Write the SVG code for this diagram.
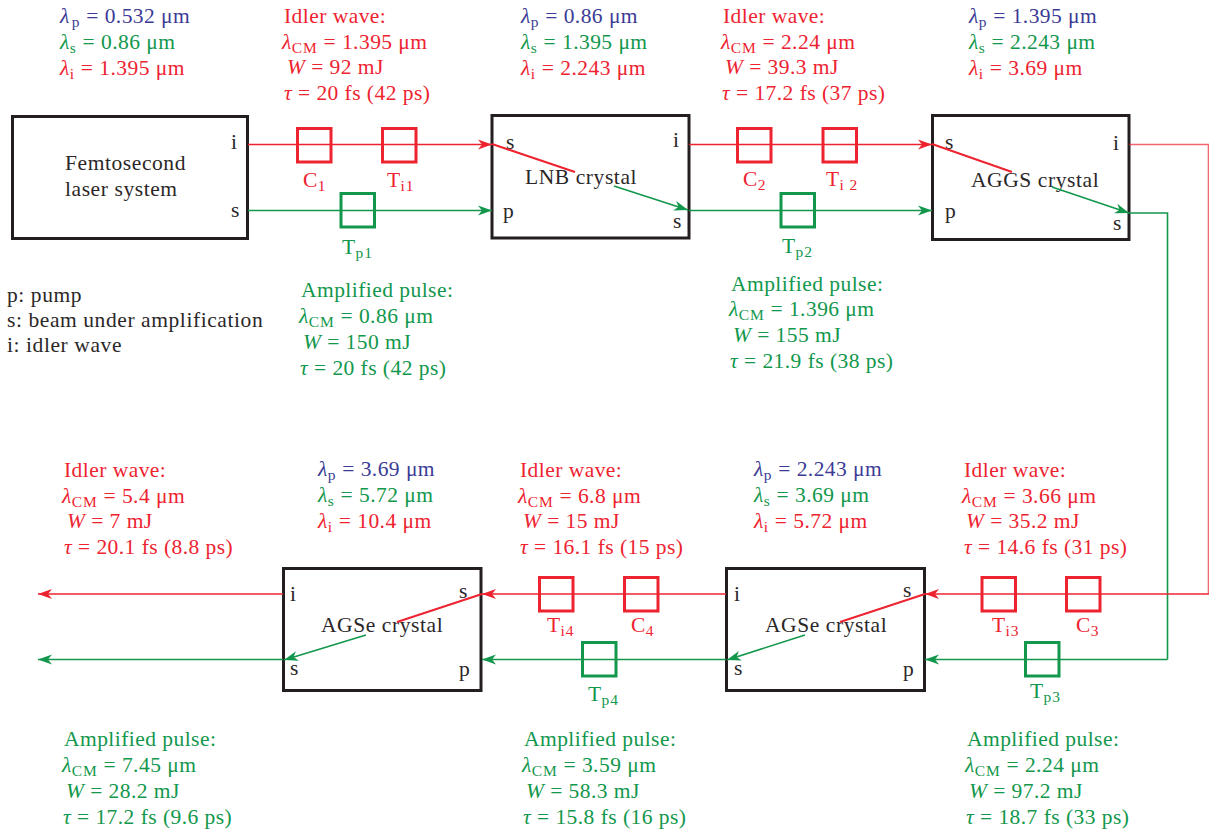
<svg xmlns="http://www.w3.org/2000/svg" width="1209" height="832" viewBox="0 0 1209 832">
<style>
text{font-family:"Liberation Serif","Times New Roman",serif;font-size:21.5px;letter-spacing:.58px;fill:#2b2728}
.b{fill:#3b3b95;letter-spacing:.45px}.g{fill:#12974c;letter-spacing:.45px}.r{fill:#ee2330;letter-spacing:.45px}
.i{font-style:italic}
.s{font-size:15.5px;letter-spacing:.9px}
.box{fill:#fff;stroke:#231f20;stroke-width:3}
.sr,.sg{fill:none;stroke-width:3}
.sr{stroke:#ee2330}.sg{stroke:#12974c}
.lr,.lg{fill:none;stroke-width:1.6}
.lr{stroke:#ee2330}.lg{stroke:#12974c}
.d{stroke-width:2}
.ar{marker-end:url(#mr)}.ag{marker-end:url(#mg)}
</style>
<defs>
<marker id="mr" markerUnits="userSpaceOnUse" markerWidth="16" markerHeight="12" refX="14" refY="6" orient="auto"><path d="M14,6L0,1L4,6L0,11z" fill="#ee2330"/></marker>
<marker id="mg" markerUnits="userSpaceOnUse" markerWidth="16" markerHeight="12" refX="14" refY="6" orient="auto"><path d="M14,6L0,1L4,6L0,11z" fill="#12974c"/></marker>
</defs>
<g id="node-laser"><rect class="box" x="12.500" y="116.500" width="235" height="122"/><text x="65" y="170">Femtosecond</text><text x="65" y="196">laser system</text><text x="231" y="149">i</text><text x="231" y="217">s</text></g>
<g id="node-lnb"><rect class="box" x="492" y="115.500" width="197" height="122.500"/><text x="525" y="184">LNB crystal</text><text x="506" y="149">s</text><text x="503" y="218">p</text><text x="673" y="147">i</text><text x="673" y="228">s</text></g>
<g id="node-aggs"><rect class="box" x="932.500" y="115.500" width="196.500" height="124"/><text x="971" y="187">AGGS crystal</text><text x="945" y="149">s</text><text x="945" y="218">p</text><text x="1113" y="150">i</text><text x="1113" y="230">s</text></g>
<g id="node-agse2"><rect class="box" x="283.500" y="568.500" width="197.500" height="122"/><text x="321" y="632">AGSe crystal</text><text x="290" y="601">i</text><text x="290" y="675">s</text><text x="459" y="598">s</text><text x="459" y="676">p</text></g>
<g id="node-agse1"><rect class="box" x="726.500" y="568.500" width="198" height="122"/><text x="765" y="632">AGSe crystal</text><text x="734" y="601">i</text><text x="734" y="675">s</text><text x="903" y="597">s</text><text x="903" y="676">p</text></g>
<g id="connectors">
<path class="lr ar" d="M248,144.500H492"/><path class="lg ag" d="M248,210.500H492"/>
<path class="lr ar" d="M689,144.500H932"/><path class="lg ag" d="M689,210.500H932"/>
<path class="lr" stroke-opacity=".7" d="M1129,144.500H1208.500V593.500"/>
<path class="lg" d="M1129,213H1167.500V659.500"/>
<path class="lr ar" d="M1209,594H925"/><path class="lg ag" d="M1167.500,659.500H925"/>
<path class="lr ar" d="M726,594H482"/><path class="lg ag" d="M726,659.500H482"/>
<path class="lr ar" d="M283,594H38"/><path class="lg ag" d="M283,659.500H38"/>
<path class="lr d" d="M492,144L575,172"/><path class="lg ag" d="M614,186L688,210"/>
<path class="lr d" d="M932,144L1012,172"/><path class="lg ag" d="M1052,187L1129,213"/>
<path class="lr d" d="M925,594L840,622"/><path class="lg ag" d="M805,635L727,660"/>
<path class="lr d" d="M482,594L397,622"/><path class="lg ag" d="M366,635L284,660"/>
</g>
<g id="node-c1"><rect class="sr" x="297.500" y="128.500" width="33.500" height="33.500"/><text class="r" x="303" y="187">C<tspan class="s" dy="4">1</tspan></text></g>
<g id="node-ti1"><rect class="sr" x="382.500" y="128.500" width="33.500" height="33.500"/><text class="r" x="387" y="187">T<tspan class="s" dy="4">i1</tspan></text></g>
<g id="node-tp1"><rect class="sg" x="341" y="193.500" width="33.500" height="33.500"/><text class="g" x="342" y="254">T<tspan class="s" dy="4">p1</tspan></text></g>
<g id="node-c2"><rect class="sr" x="737.500" y="128.500" width="33.500" height="33.500"/><text class="r" x="743" y="186">C<tspan class="s" dy="4">2</tspan></text></g>
<g id="node-ti2"><rect class="sr" x="823" y="128.500" width="33.500" height="33.500"/><text class="r" x="826" y="186">T<tspan class="s" dy="4">i 2</tspan></text></g>
<g id="node-tp2"><rect class="sg" x="781" y="193.500" width="33.500" height="33.500"/><text class="g" x="782" y="253">T<tspan class="s" dy="4">p2</tspan></text></g>
<g id="node-ti3"><rect class="sr" x="982" y="577.500" width="33.500" height="33.500"/><text class="r" x="992" y="632">T<tspan class="s" dy="4">i3</tspan></text></g>
<g id="node-c3"><rect class="sr" x="1066.500" y="577.500" width="33.500" height="33.500"/><text class="r" x="1076" y="632">C<tspan class="s" dy="4">3</tspan></text></g>
<g id="node-tp3"><rect class="sg" x="1025.500" y="642.500" width="33.500" height="33.500"/><text class="g" x="1030" y="698">T<tspan class="s" dy="4">p3</tspan></text></g>
<g id="node-ti4"><rect class="sr" x="539.500" y="577.500" width="33.500" height="33.500"/><text class="r" x="547" y="632">T<tspan class="s" dy="4">i4</tspan></text></g>
<g id="node-c4"><rect class="sr" x="624.500" y="577.500" width="33.500" height="33.500"/><text class="r" x="631" y="632">C<tspan class="s" dy="4">4</tspan></text></g>
<g id="node-tp4"><rect class="sg" x="582.500" y="642.500" width="33.500" height="33.500"/><text class="g" x="588" y="701">T<tspan class="s" dy="4">p4</tspan></text></g>
<g id="text-legend"><text x="7" y="302">p: pump</text><text x="7" y="327">s: beam under amplification</text><text x="7" y="352">i: idler wave</text></g>
<g id="text-wavelengths">
<text class="b" x="60" y="23"><tspan class="i">λ</tspan><tspan class="s" dx="2" dy="4">p</tspan><tspan dy="-4"> = 0.532 μm</tspan></text>
<text class="g" x="60" y="49"><tspan class="i">λ</tspan><tspan class="s" dy="4">s</tspan><tspan dy="-4"> = 0.86 μm</tspan></text>
<text class="r" x="60" y="75"><tspan class="i">λ</tspan><tspan class="s" dy="4">i</tspan><tspan dy="-4"> = 1.395 μm</tspan></text>
<text class="b" x="521" y="23"><tspan class="i">λ</tspan><tspan class="s" dy="4">p</tspan><tspan dy="-4"> = 0.86 μm</tspan></text>
<text class="g" x="521" y="49"><tspan class="i">λ</tspan><tspan class="s" dy="4">s</tspan><tspan dy="-4"> = 1.395 μm</tspan></text>
<text class="r" x="521" y="75"><tspan class="i">λ</tspan><tspan class="s" dy="4">i</tspan><tspan dy="-4"> = 2.243 μm</tspan></text>
<text class="b" x="969" y="23"><tspan class="i">λ</tspan><tspan class="s" dy="4">p</tspan><tspan dy="-4"> = 1.395 μm</tspan></text>
<text class="g" x="969" y="49"><tspan class="i">λ</tspan><tspan class="s" dy="4">s</tspan><tspan dy="-4"> = 2.243 μm</tspan></text>
<text class="r" x="969" y="75"><tspan class="i">λ</tspan><tspan class="s" dy="4">i</tspan><tspan dy="-4"> = 3.69 μm</tspan></text>
<text class="b" x="318" y="476"><tspan class="i">λ</tspan><tspan class="s" dy="4">p</tspan><tspan dy="-4"> = 3.69 μm</tspan></text>
<text class="g" x="318" y="502"><tspan class="i">λ</tspan><tspan class="s" dy="4">s</tspan><tspan dy="-4"> = 5.72 μm</tspan></text>
<text class="r" x="318" y="528"><tspan class="i">λ</tspan><tspan class="s" dy="4">i</tspan><tspan dy="-4"> = 10.4 μm</tspan></text>
<text class="b" x="754" y="476"><tspan class="i">λ</tspan><tspan class="s" dy="4">p</tspan><tspan dy="-4"> = 2.243 μm</tspan></text>
<text class="g" x="754" y="502"><tspan class="i">λ</tspan><tspan class="s" dy="4">s</tspan><tspan dy="-4"> = 3.69 μm</tspan></text>
<text class="r" x="754" y="528"><tspan class="i">λ</tspan><tspan class="s" dy="4">i</tspan><tspan dy="-4"> = 5.72 μm</tspan></text>
</g>
<g id="text-idler">
<text class="r" x="284" y="23">Idler wave:</text><text class="r" x="282" y="49"><tspan class="i">λ</tspan><tspan class="s" dy="4">CM</tspan><tspan dy="-4"> = 1.395 μm</tspan></text><text class="r" x="287" y="74"><tspan class="i">W</tspan> = 92 mJ</text><text class="r" x="284" y="100"><tspan class="i">τ</tspan> = 20 fs (42 ps)</text>
<text class="r" x="723" y="23">Idler wave:</text><text class="r" x="721" y="49"><tspan class="i">λ</tspan><tspan class="s" dy="4">CM</tspan><tspan dy="-4"> = 2.24 μm</tspan></text><text class="r" x="725" y="74"><tspan class="i">W</tspan> = 39.3 mJ</text><text class="r" x="722" y="100"><tspan class="i">τ</tspan> = 17.2 fs (37 ps)</text>
<text class="r" x="64" y="477">Idler wave:</text><text class="r" x="62" y="503"><tspan class="i">λ</tspan><tspan class="s" dy="4">CM</tspan><tspan dy="-4"> = 5.4 μm</tspan></text><text class="r" x="67" y="528"><tspan class="i">W</tspan> = 7 mJ</text><text class="r" x="64" y="554"><tspan class="i">τ</tspan> = 20.1 fs (8.8 ps)</text>
<text class="r" x="520" y="477">Idler wave:</text><text class="r" x="518" y="503"><tspan class="i">λ</tspan><tspan class="s" dy="4">CM</tspan><tspan dy="-4"> = 6.8 μm</tspan></text><text class="r" x="523" y="528"><tspan class="i">W</tspan> = 15 mJ</text><text class="r" x="520" y="554"><tspan class="i">τ</tspan> = 16.1 fs (15 ps)</text>
<text class="r" x="964" y="477">Idler wave:</text><text class="r" x="962" y="503"><tspan class="i">λ</tspan><tspan class="s" dy="4">CM</tspan><tspan dy="-4"> = 3.66 μm</tspan></text><text class="r" x="966" y="528"><tspan class="i">W</tspan> = 35.2 mJ</text><text class="r" x="964" y="554"><tspan class="i">τ</tspan> = 14.6 fs (31 ps)</text>
</g>
<g id="text-amplified">
<text class="g" x="301" y="297">Amplified pulse:</text><text class="g" x="299" y="323"><tspan class="i">λ</tspan><tspan class="s" dy="4">CM</tspan><tspan dy="-4"> = 0.86 μm</tspan></text><text class="g" x="303" y="349"><tspan class="i">W</tspan> = 150 mJ</text><text class="g" x="300" y="375"><tspan class="i">τ</tspan> = 20 fs (42 ps)</text>
<text class="g" x="731" y="291">Amplified pulse:</text><text class="g" x="729" y="316"><tspan class="i">λ</tspan><tspan class="s" dy="4">CM</tspan><tspan dy="-4"> = 1.396 μm</tspan></text><text class="g" x="733" y="342"><tspan class="i">W</tspan> = 155 mJ</text><text class="g" x="730" y="368"><tspan class="i">τ</tspan> = 21.9 fs (38 ps)</text>
<text class="g" x="64" y="746">Amplified pulse:</text><text class="g" x="62" y="772"><tspan class="i">λ</tspan><tspan class="s" dy="4">CM</tspan><tspan dy="-4"> = 7.45 μm</tspan></text><text class="g" x="66" y="798"><tspan class="i">W</tspan> = 28.2 mJ</text><text class="g" x="63" y="824"><tspan class="i">τ</tspan> = 17.2 fs (9.6 ps)</text>
<text class="g" x="524" y="746">Amplified pulse:</text><text class="g" x="522" y="772"><tspan class="i">λ</tspan><tspan class="s" dy="4">CM</tspan><tspan dy="-4"> = 3.59 μm</tspan></text><text class="g" x="526" y="798"><tspan class="i">W</tspan> = 58.3 mJ</text><text class="g" x="523" y="824"><tspan class="i">τ</tspan> = 15.8 fs (16 ps)</text>
<text class="g" x="967" y="746">Amplified pulse:</text><text class="g" x="965" y="772"><tspan class="i">λ</tspan><tspan class="s" dy="4">CM</tspan><tspan dy="-4"> = 2.24 μm</tspan></text><text class="g" x="969" y="798"><tspan class="i">W</tspan> = 97.2 mJ</text><text class="g" x="966" y="824"><tspan class="i">τ</tspan> = 18.7 fs (33 ps)</text>
</g>
</svg>
